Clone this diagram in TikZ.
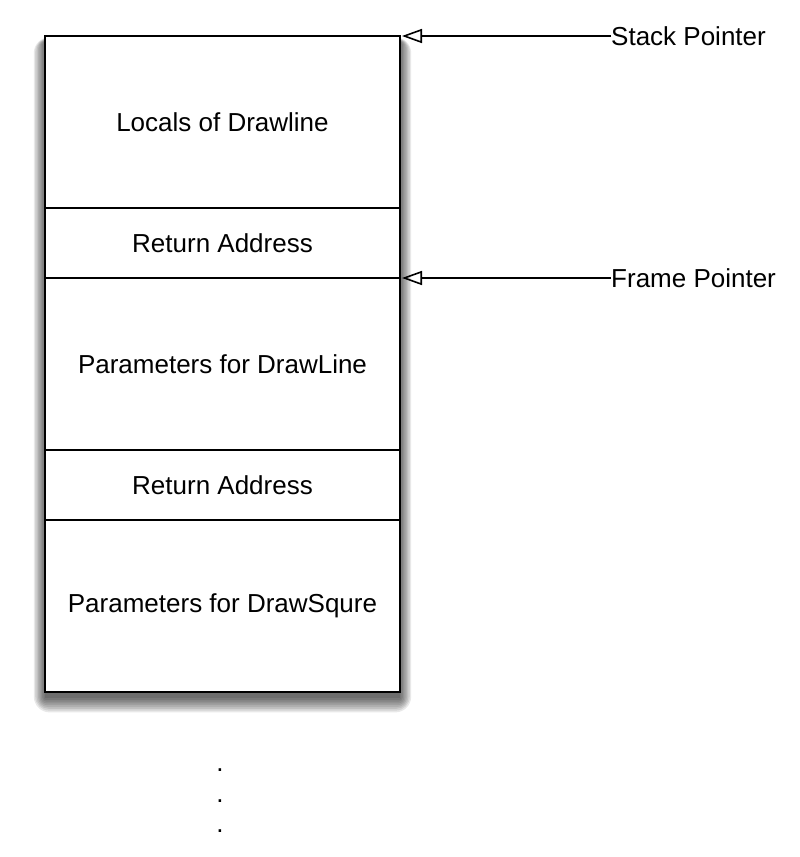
\documentclass[tikz,border=0pt]{standalone}
\usepackage{fontspec}
\setmainfont{Liberation Sans}
\usetikzlibrary{arrows.meta}
\begin{document}
\begin{tikzpicture}[x=1pt,y=-1pt,
  cell/.style={draw=black,line width=1.6pt,minimum width=355pt,inner sep=0pt,outer sep=0pt,
    font=\fontsize{26}{30}\selectfont},
  lbl/.style={anchor=west,inner sep=0pt,font=\fontsize{26}{30}\selectfont},
  ptr/.style={line width=1.6pt,-{Triangle[open,length=20pt,width=14pt,line width=1.6pt]}},
  dotn/.style={anchor=base,inner sep=0pt,font=\fontsize{26}{30}\selectfont}]
\useasboundingbox (0,0) rectangle (800,857);
% shadow
\foreach \e in {16,14,...,0}{
  \fill[black,opacity=0.09,rounded corners=\e pt] (45-\e*0.7,36+6-\e*0.3) rectangle (400+\e*0.7,692+6+\e*0.9);
}
\fill[white] (45,36) rectangle (400,692);
\node[cell,minimum height=172pt,anchor=north west] (c1) at (45,36) {Locals of Drawline};
\node[cell,minimum height=70pt,anchor=north west] (c2) at (c1.south west) {Return Address};
\node[cell,minimum height=172pt,anchor=north west] (c3) at (c2.south west) {Parameters for DrawLine};
\node[cell,minimum height=70pt,anchor=north west] (c4) at (c3.south west) {Return Address};
\node[cell,minimum height=172pt,anchor=north west] (c5) at (c4.south west) {Parameters for DrawSqure};
\draw[line width=2.2pt] (c1.north west) rectangle (c5.south east);
\coordinate (sp) at ([xshift=2pt]c1.north east);
\coordinate (fp) at ([xshift=2pt]c3.north east);
\node[lbl] (spl) at (611,36) {Stack Pointer};
\node[lbl] (fpl) at (611,278) {Frame Pointer};
\draw[ptr] (spl.west) -- (sp);
\draw[ptr] (fpl.west) -- (fp);
\node[dotn] (d1) at (220,771) {.};
\node[dotn] (d2) at (220,802) {.};
\node[dotn] (d3) at (220,832) {.};
\end{tikzpicture}
\end{document}
